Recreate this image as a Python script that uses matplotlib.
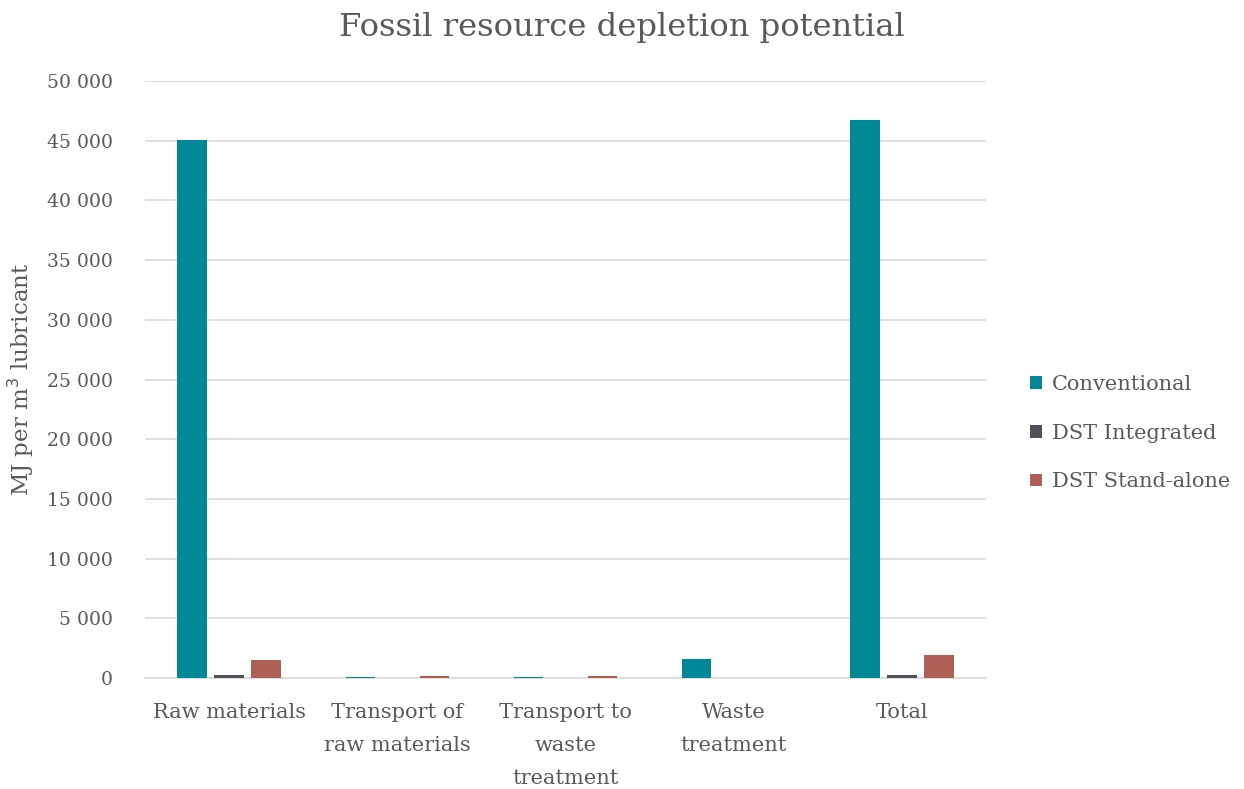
import matplotlib
matplotlib.use("Agg")
import matplotlib.pyplot as plt
import numpy as np
from matplotlib.ticker import FuncFormatter

plt.rcParams['font.family'] = ['DejaVu Serif']

categories = ["Raw materials", "Transport of\nraw materials", "Transport to\nwaste\ntreatment",
              "Waste\ntreatment", "Total"]
series_names = ["Conventional", "DST Integrated", "DST Stand-alone"]
conventional = [45100, 50, 50, 1550, 46750]
dst_integrated = [250, 10, 10, 10, 280]
dst_standalone = [1500, 200, 200, 30, 1930]
colors = ["#008896", "#505058", "#b05f56"]

fig = plt.figure(figsize=(12.44, 7.89), dpi=100)
ax = fig.add_axes([0.1166, 0.1407, 0.676, 0.7566])

x = np.arange(len(categories))
bw = 0.175
gap = 0.045
offsets = [-(bw + gap), 0, bw + gap]
for vals, off, col, name in zip([conventional, dst_integrated, dst_standalone], offsets, colors, series_names):
    ax.bar(x + off, vals, width=bw, color=col, label=name, zorder=3)

ax.set_xlim(-0.5, len(categories) - 0.5)
ax.set_ylim(0, 50000)
ax.set_yticks(np.arange(0, 50001, 5000))
ax.yaxis.set_major_formatter(FuncFormatter(lambda v, p: f"{int(v):,}".replace(",", " ")))
ax.grid(axis='y', color='#d9d9d9', linewidth=1.2, zorder=0)
for s in ['top', 'right', 'left']:
    ax.spines[s].set_visible(False)
ax.spines['bottom'].set_color('#d9d9d9')
ax.spines['bottom'].set_linewidth(1.2)
ax.tick_params(axis='y', length=0, labelsize=13.5, colors='#595959', pad=23)
ax.tick_params(axis='x', length=0, labelsize=15, colors='#595959', pad=18)
ax.set_xticks(x)
ax.set_xticklabels(categories, linespacing=1.92)
ax.set_ylabel("MJ per m$^3$ lubricant", fontsize=16.5, color='#595959', labelpad=8)

fig.text(0.5, 0.985, "Fossil resource depletion potential", ha='center', va='top',
         fontsize=23.2, color='#595959')

leg = fig.legend(loc='center left', bbox_to_anchor=(0.813, 0.451), frameon=False,
                 fontsize=15, handlelength=0.56, handleheight=0.56, handletextpad=0.5,
                 labelspacing=1.42, labelcolor='#595959')

fig.savefig("out.png", dpi=100)
